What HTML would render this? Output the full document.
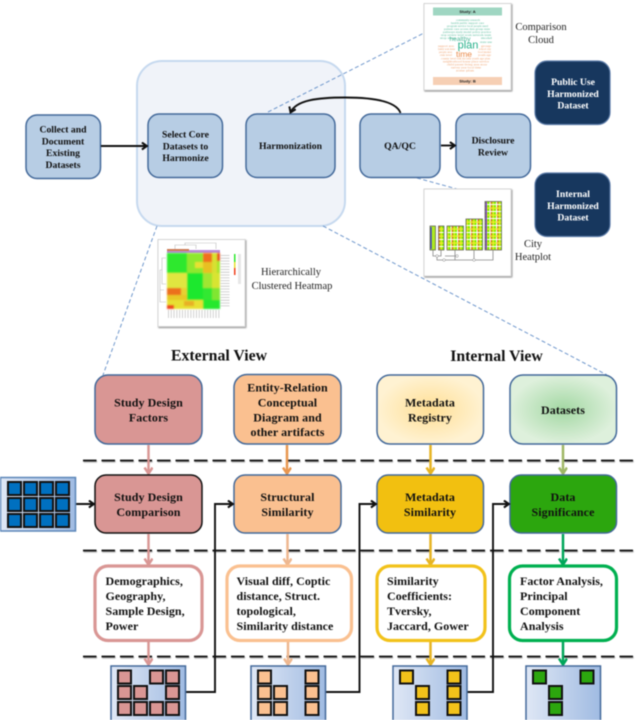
<!DOCTYPE html>
<html><head><meta charset="utf-8">
<style>
html,body{margin:0;padding:0;background:#fff;width:638px;height:720px;overflow:hidden}
svg{display:block;filter:blur(.4px)}
text{font-family:"Liberation Serif",serif}
.b{font-weight:bold;fill:#111;text-anchor:middle}
.t{font-size:9.7px}
.m{font-size:12px;letter-spacing:.08px}
.l{font-size:12px;font-weight:bold;fill:#111;letter-spacing:.03px}
.w{fill:#fff}
.n{font-size:10.5px;fill:#222;text-anchor:middle}
.bx{stroke:#43699a;stroke-width:1.5}
.sq{stroke:#111;stroke-width:2}
.tw{font-family:"Liberation Sans",sans-serif;font-size:3px}
.g{fill:#62c0a2}.o{fill:#f0a574}
</style></head><body>
<svg width="638" height="720" viewBox="0 0 638 720" xmlns="http://www.w3.org/2000/svg">
<defs>
<radialGradient id="gy"><stop offset="0" stop-color="#ffdf95"/><stop offset="1" stop-color="#fff2d2"/></radialGradient>
<radialGradient id="gg"><stop offset="0" stop-color="#a3d8a3"/><stop offset="1" stop-color="#def0dc"/></radialGradient>
<linearGradient id="sb"><stop offset="0" stop-color="#dfe7f5"/><stop offset="1" stop-color="#a0bbe2"/></linearGradient>
<filter id="sh" x="-10%" y="-10%" width="125%" height="125%"><feDropShadow dx="0.8" dy="1" stdDeviation="0.8" flood-color="#000" flood-opacity=".45"/></filter>
<filter id="bl" x="-5%" y="-5%" width="110%" height="110%"><feGaussianBlur stdDeviation=".9"/></filter>
<filter id="ls" x="-2%" y="-200%" width="104%" height="500%"><feDropShadow dx="0.5" dy="1" stdDeviation="0.6" flood-color="#000" flood-opacity=".4"/></filter>
<pattern id="st" width="6.500" height="7" patternUnits="userSpaceOnUse">
<rect width="6.500" height="7" fill="#7cf000"/><rect x="2" width="1.100" height="7" fill="#fff"/><rect x="3.200" width="1.100" height="7" fill="#ff5a2a"/><rect x="5.200" width="1.300" height="7" fill="#e8ea20"/>
<rect y="1" width="6.500" height="1" fill="#fff"/><rect y="4.500" width="6.500" height="1.200" fill="#f2ec30"/>
</pattern>
<marker id="a" markerWidth="10" markerHeight="10" refX="6.600" refY="4" orient="auto" markerUnits="userSpaceOnUse"><path d="M1.500 .5L6.500 4L1.500 7.500" fill="none" stroke="#111" stroke-width="2"/></marker>
<marker id="ap" markerWidth="10" markerHeight="10" refX="7.400" refY="4.500" orient="auto" markerUnits="userSpaceOnUse"><path d="M1 .5L7 4.500L1 8.500" fill="none" stroke="#d99694" stroke-width="2.500"/></marker>
<marker id="ao" markerWidth="10" markerHeight="10" refX="7.400" refY="4.500" orient="auto" markerUnits="userSpaceOnUse"><path d="M1 .5L7 4.500L1 8.500" fill="none" stroke="#e8964f" stroke-width="2.500"/></marker>
<marker id="al" markerWidth="10" markerHeight="10" refX="7.400" refY="4.500" orient="auto" markerUnits="userSpaceOnUse"><path d="M1 .5L7 4.500L1 8.500" fill="none" stroke="#eeb78f" stroke-width="2.500"/></marker>
<marker id="ay" markerWidth="10" markerHeight="10" refX="7.400" refY="4.500" orient="auto" markerUnits="userSpaceOnUse"><path d="M1 .5L7 4.500L1 8.500" fill="none" stroke="#e6b422" stroke-width="2.500"/></marker>
<marker id="av" markerWidth="10" markerHeight="10" refX="7.400" refY="4.500" orient="auto" markerUnits="userSpaceOnUse"><path d="M1 .5L7 4.500L1 8.500" fill="none" stroke="#9fb765" stroke-width="2.500"/></marker>
<marker id="an" markerWidth="10" markerHeight="10" refX="7.400" refY="4.500" orient="auto" markerUnits="userSpaceOnUse"><path d="M1 .5L7 4.500L1 8.500" fill="none" stroke="#00a65a" stroke-width="2.500"/></marker>
</defs>

<!-- big container -->
<rect x="137" y="61" width="208" height="165" rx="25" fill="#f0f3f9" stroke="#c6d9ef" stroke-width="2"/>

<!-- blue dashed -->
<g fill="none" stroke="#6f97cc" stroke-width="1" stroke-dasharray="4 2.500">
<path d="M268 112L424 33"/><path d="M417 178L457 189"/><path d="M323 226L607 375"/><path d="M157 226L103 375"/>
</g>

<!-- top boxes -->
<g class="bx" fill="#b7cde4">
<rect x="26" y="115" width="74.500" height="63.500" rx="11"/>
<rect x="148" y="114" width="74.500" height="63.500" rx="11"/>
<rect x="246" y="114" width="89" height="63.500" rx="11"/>
<rect x="360" y="114" width="80" height="63.500" rx="11"/>
<rect x="456" y="114" width="74.500" height="63.500" rx="11"/>
</g>
<g fill="#17375e" stroke="#5b7ba8" stroke-width="1.200">
<rect x="535" y="61" width="75" height="63.500" rx="12"/>
<rect x="535" y="173" width="75" height="63.500" rx="12"/>
</g>
<g class="b t">
<text x="63" y="132.500">Collect and</text><text x="63" y="144.500">Document</text><text x="63" y="156">Existing</text><text x="63" y="168">Datasets</text>
<text x="185.500" y="137.500">Select Core</text><text x="185.500" y="149.500">Datasets to</text><text x="185.500" y="161">Harmonize</text>
<text x="290.500" y="149">Harmonization</text>
<text x="400" y="149">QA/QC</text>
<text x="493" y="143.500">Disclosure</text><text x="493" y="155.500">Review</text>
</g>
<g class="b t" style="fill:#fff">
<text x="573" y="85" class="w">Public Use</text><text x="573" y="97" class="w">Harmonized</text><text x="573" y="108.500" class="w">Dataset</text>
<text x="573" y="197" class="w">Internal</text><text x="573" y="209" class="w">Harmonized</text><text x="573" y="220.500" class="w">Dataset</text>
</g>
<g fill="none" stroke="#111" stroke-width="1.900">
<path d="M101 146H147" marker-end="url(#a)"/>
<path d="M441 145.500H455" marker-end="url(#a)"/>
<path d="M400.500 113C396 100 368 97.500 345 97.500C318 97.500 296 100 290.500 112.500" marker-end="url(#a)"/>
</g>

<!-- word cloud card -->
<g>
<rect x="424" y="3.500" width="87" height="86.500" fill="#fff" stroke="#d4d4d4" filter="url(#sh)"/>
<rect x="433" y="7.500" width="69" height="8" fill="#9fd6c2"/>
<rect x="433" y="77" width="69" height="8" fill="#f6cfb4"/>
<text x="467.500" y="13" font-size="4" font-weight="bold" text-anchor="middle" style='font-family:"Liberation Sans",sans-serif' fill="#222">Study: A</text>
<text x="467.500" y="82.500" font-size="4" font-weight="bold" text-anchor="middle" style='font-family:"Liberation Sans",sans-serif' fill="#222">Study: B</text>
<g class="tw" lengthAdjust="spacingAndGlyphs">
<text class="g" x="456" y="21" textLength="24" lengthAdjust="spacingAndGlyphs">community research</text>
<text class="g" x="451" y="24" textLength="33" lengthAdjust="spacingAndGlyphs">health public support care</text>
<text class="g" x="447" y="27" textLength="41" lengthAdjust="spacingAndGlyphs">program service local people need</text>
<text class="g" x="444" y="30" textLength="46" lengthAdjust="spacingAndGlyphs">patient care access data group state</text>
<text class="g" x="443" y="33" textLength="48" lengthAdjust="spacingAndGlyphs">pathways study model policy practice</text>
<text class="g" x="441" y="36" textLength="50" lengthAdjust="spacingAndGlyphs">stop review level work network team</text>
<text class="g" x="440" y="39" textLength="16" lengthAdjust="spacingAndGlyphs">stop share</text>
<text class="g" x="481" y="39" textLength="11" lengthAdjust="spacingAndGlyphs">model</text>
<text class="g" x="480" y="43" textLength="12" lengthAdjust="spacingAndGlyphs">state use</text>
<text class="o" x="438" y="47" textLength="16" lengthAdjust="spacingAndGlyphs">support area</text>
<text class="o" x="481" y="47" textLength="10" lengthAdjust="spacingAndGlyphs">group</text>
<text class="o" x="438" y="50" textLength="17" lengthAdjust="spacingAndGlyphs">family work home</text>
<text class="o" x="479" y="50" textLength="12" lengthAdjust="spacingAndGlyphs">school city</text>
<text class="o" x="439" y="53" textLength="13" lengthAdjust="spacingAndGlyphs">people area</text>
<text class="o" x="478" y="53" textLength="13" lengthAdjust="spacingAndGlyphs">food market</text>
<text class="o" x="440" y="56" textLength="12" lengthAdjust="spacingAndGlyphs">risk level</text>
<text class="o" x="478" y="56" textLength="13" lengthAdjust="spacingAndGlyphs">youth age</text>
<text class="o" x="441" y="59.500" textLength="49" lengthAdjust="spacingAndGlyphs">county level risk income youth age plan</text>
<text class="o" x="443" y="62.500" textLength="46" lengthAdjust="spacingAndGlyphs">neighborhood house place service</text>
<text class="o" x="447" y="65.500" textLength="40" lengthAdjust="spacingAndGlyphs">child parent living area store</text>
<text class="o" x="451" y="68.500" textLength="30" lengthAdjust="spacingAndGlyphs">survey year local time</text>
<text class="o" x="456" y="71.500" textLength="18" lengthAdjust="spacingAndGlyphs">zone plan</text>
</g>
<text x="468" y="48.500" font-size="11" text-anchor="middle" style='font-family:"Liberation Sans",sans-serif' fill="#25b08a">plan</text>
<text x="460" y="41" font-size="6.500" text-anchor="middle" style='font-family:"Liberation Sans",sans-serif' fill="#4fb89a">healthy</text>
<text x="464" y="57" font-size="8.500" text-anchor="middle" style='font-family:"Liberation Sans",sans-serif' fill="#ea8a4a">time</text>
</g>
<text class="n" x="541" y="30">Comparison</text><text class="n" x="541" y="43">Cloud</text>

<!-- city heatplot card -->
<g>
<rect x="424" y="189" width="87" height="87" fill="#fff" stroke="#d4d4d4" filter="url(#sh)"/>
<g stroke="#555" stroke-width=".7">
<rect x="430" y="226" width="5.500" height="24" fill="#aeea20"/>
<rect x="438.500" y="226" width="5.500" height="24" fill="url(#st)"/>
<rect x="447" y="226" width="16.500" height="24" fill="url(#st)"/>
<rect x="466" y="219" width="16.500" height="31" fill="url(#st)"/>
<rect x="485" y="201.500" width="16.500" height="48.500" fill="url(#st)"/>
</g>
<rect x="430.500" y="227" width="1.200" height="22" fill="#3a3ad0"/>
<rect x="485.600" y="202" width="1.300" height="47.500" fill="#6a3ad0"/>
<g fill="none" stroke="#888" stroke-width=".8">
<path d="M433 250V256H441V250M437 256V260H455V250M437 260H474V250M445 256H455M493 250V260H474"/>
</g>
<circle cx="437" cy="256" r="1.300" fill="#fff" stroke="#888" stroke-width=".5"/>
<circle cx="444" cy="260" r="1.300" fill="#fff" stroke="#888" stroke-width=".5"/>
<circle cx="457" cy="256" r="1.300" fill="#fff" stroke="#888" stroke-width=".5"/>
<circle cx="474" cy="260" r="1.300" fill="#fff" stroke="#888" stroke-width=".5"/>
</g>
<text class="n" x="533" y="247">City</text><text class="n" x="533" y="260">Heatplot</text>

<!-- clustered heatmap card -->
<g>
<rect x="158" y="239.500" width="87" height="87" fill="#fff" stroke="#d4d4d4" filter="url(#sh)"/>
<rect x="167" y="250" width="53" height="3" fill="#b98ad8"/>
<rect x="167" y="249" width="22" height="2" fill="#cc7a55"/>
<g filter="url(#bl)">
<rect x="167" y="253" width="53" height="56" fill="#a8e62a"/>
<rect x="167" y="253" width="20" height="20" fill="#2ee82e"/>
<rect x="187" y="253" width="16" height="20" fill="#8ee82e"/>
<rect x="195" y="262" width="8" height="6" fill="#e8e030"/>
<rect x="203" y="253" width="9" height="9" fill="#f0701c"/>
<rect x="203" y="262" width="9" height="11" fill="#e8c020"/>
<rect x="212" y="253" width="5" height="20" fill="#d8e030"/>
<rect x="217" y="253" width="3" height="8" fill="#e8501c"/>
<rect x="167" y="273" width="20" height="15" fill="#e0e640"/>
<rect x="187" y="273" width="16" height="27" fill="#1fe82e"/>
<rect x="203" y="273" width="9" height="15" fill="#a0e630"/>
<rect x="212" y="273" width="8" height="15" fill="#d8e430"/>
<rect x="167" y="288" width="14" height="7" fill="#ec6f1e"/>
<rect x="181" y="288" width="6" height="7" fill="#e8d030"/>
<rect x="167" y="295" width="20" height="5" fill="#e8c828"/>
<rect x="203" y="288" width="9" height="12" fill="#30e830"/>
<rect x="212" y="288" width="8" height="12" fill="#80e630"/>
<rect x="167" y="300" width="36" height="9" fill="#e8e030"/>
<rect x="167" y="305" width="7" height="4" fill="#ee4a1c"/>
<rect x="184" y="301" width="10" height="5" fill="#e8b028"/>
<rect x="203" y="300" width="17" height="9" fill="#28e82e"/>
</g>
<g fill="none" stroke="#bbb" stroke-width=".6">
<path d="M175 249V245H196V249M185 245V243H216V249"/>
<path d="M166 258H162V284H166M162 270H160V302H166M160 290H164"/>
</g>
<g stroke="#ccc" stroke-dasharray=".9 1.900" fill="none">
<path d="M221 255H230" stroke-width="0"/>
<path d="M225 255V308" stroke-width="9"/>
<path d="M168 314H220" stroke-width="8"/>
</g>
<rect x="234" y="254" width="1.500" height="8" fill="#2ee82e"/><rect x="234" y="262" width="1.500" height="6" fill="#e8e030"/><rect x="234" y="268" width="1.500" height="7" fill="#f0401c"/>
<rect x="238" y="254" width="3" height="30" fill="#ddd" opacity=".7"/>
</g>
<text class="n" x="291" y="275">Hierarchically</text><text class="n" x="292" y="289">Clustered Heatmap</text>

<!-- headings -->
<text class="b" x="219" y="360.500" font-size="15.800">External View</text>
<text class="b" x="496.500" y="361" font-size="15.800">Internal View</text>

<!-- dashed separators -->
<g stroke="#111" stroke-width="1.800" stroke-dasharray="13.500 5" fill="none" filter="url(#ls)">
<path d="M83 460.500H635"/><path d="M83 550.500H635"/><path d="M83 656.500H635"/>
</g>

<!-- vertical arrows -->
<g fill="none" stroke-width="2.500">
<path d="M148.500 445V474" stroke="#d99694" marker-end="url(#ap)"/>
<path d="M287 445V474" stroke="#e8964f" marker-end="url(#ao)"/>
<path d="M430.500 445V474" stroke="#e6b422" marker-end="url(#ay)"/>
<path d="M563 445V474" stroke="#9fb765" marker-end="url(#av)"/>
<path d="M148.500 534V565" stroke="#d99694" marker-end="url(#ap)"/>
<path d="M287.500 534V565" stroke="#eeb78f" marker-end="url(#al)"/>
<path d="M430.500 534V565" stroke="#e6b422" marker-end="url(#ay)"/>
<path d="M563 534V565" stroke="#00a65a" marker-end="url(#an)"/>
<path d="M148.500 641V665" stroke="#d99694" marker-end="url(#ap)"/>
<path d="M288 641V665" stroke="#eeb78f" marker-end="url(#al)"/>
<path d="M430.500 641V665" stroke="#e6b422" marker-end="url(#ay)"/>
<path d="M563 641V665" stroke="#00a65a" marker-end="url(#an)"/>
</g>

<!-- row 1 -->
<g class="bx">
<rect x="95" y="375" width="107" height="69" rx="13" fill="#d99694"/>
<rect x="234" y="374.500" width="107" height="69.500" rx="13" fill="#fac090"/>
<rect x="377" y="375" width="106.500" height="69" rx="13" fill="url(#gy)"/>
<rect x="510" y="375" width="106.500" height="69" rx="13" fill="url(#gg)"/>
</g>
<!-- row 2 -->
<rect x="95" y="475" width="107" height="58" rx="11" fill="#d99694" stroke="#111" stroke-width="1.500"/>
<g class="bx">
<rect x="234" y="475" width="107" height="58" rx="11" fill="#fac090"/>
<rect x="377" y="475" width="106.500" height="58" rx="11" fill="#f2c010"/>
<rect x="510" y="475" width="106.500" height="58" rx="11" fill="#2ca60e"/>
</g>
<!-- row 3 -->
<g fill="#fff" stroke-width="3.200">
<rect x="95" y="566" width="107" height="74.500" rx="13" stroke="#d99694"/>
<rect x="227" y="566" width="124.500" height="74.500" rx="13" stroke="#fac090"/>
<rect x="377" y="566" width="108" height="74.500" rx="13" stroke="#f2c21a"/>
<rect x="509.500" y="566" width="107" height="74.500" rx="13" stroke="#00b050"/>
</g>

<g class="b m">
<text x="148.500" y="406.500">Study Design</text><text x="148.500" y="421.500">Factors</text>
<text x="287.500" y="391.500">Entity-Relation</text><text x="287.500" y="406.500">Conceptual</text><text x="287.500" y="421.500">Diagram and</text><text x="287.500" y="436">other artifacts</text>
<text x="430" y="406.500">Metadata</text><text x="430" y="421.500">Registry</text>
<text x="563" y="414">Datasets</text>
<text x="148.500" y="501">Study Design</text><text x="148.500" y="516">Comparison</text>
<text x="287.500" y="501">Structural</text><text x="287.500" y="516">Similarity</text>
<text x="430" y="501">Metadata</text><text x="430" y="516">Similarity</text>
<text x="563" y="501">Data</text><text x="563" y="516">Significance</text>
</g>
<g class="l">
<text x="105.500" y="585">Demographics,</text><text x="105.500" y="600">Geography,</text><text x="105.500" y="615">Sample Design,</text><text x="105.500" y="630">Power</text>
<text x="236.500" y="585">Visual diff, Coptic</text><text x="236.500" y="600">distance, Struct.</text><text x="236.500" y="615">topological,</text><text x="236.500" y="630">Similarity distance</text>
<text x="387" y="585">Similarity</text><text x="387" y="600">Coefficients:</text><text x="387" y="615">Tversky,</text><text x="387" y="630">Jaccard, Gower</text>
<text x="520" y="585">Factor Analysis,</text><text x="520" y="600">Principal</text><text x="520" y="615">Component</text><text x="520" y="630">Analysis</text>
</g>

<!-- elbow connectors -->
<g fill="none" stroke="#111" stroke-width="1.900">
<path d="M185 692H215V504H233" marker-end="url(#a)"/>
<path d="M325 692H359.500V504H376" marker-end="url(#a)"/>
<path d="M467 692H493V504H509" marker-end="url(#a)"/>
<path d="M75 504H94" marker-end="url(#a)"/>
</g>

<!-- left grid -->
<rect x="0.500" y="477.500" width="75" height="53.500" fill="url(#sb)" stroke="#5b85b8" stroke-width="1.500"/>
<g fill="#0070c0" class="sq">
<rect x="8" y="482" width="13" height="13"/><rect x="24" y="482" width="13" height="13"/><rect x="40" y="482" width="13" height="13"/><rect x="56" y="482" width="13" height="13"/>
<rect x="8" y="498" width="13" height="13"/><rect x="24" y="498" width="13" height="13"/><rect x="40" y="498" width="13" height="13"/><rect x="56" y="498" width="13" height="13"/>
<rect x="8" y="514" width="13" height="13"/><rect x="24" y="514" width="13" height="13"/><rect x="40" y="514" width="13" height="13"/><rect x="56" y="514" width="13" height="13"/>
</g>

<!-- bottom boxes -->
<g fill="url(#sb)" stroke="#43699a" stroke-width="1.500">
<rect x="111" y="666" width="74.500" height="56"/>
<rect x="251" y="666" width="74.500" height="56"/>
<rect x="393" y="666" width="74" height="56"/>
<rect x="526" y="666" width="74.500" height="56"/>
</g>
<g fill="#d99694" class="sq">
<rect x="118" y="670.500" width="13" height="13"/><rect x="150" y="670.500" width="13" height="13"/><rect x="166" y="670.500" width="13" height="13"/>
<rect x="118" y="686" width="13" height="13"/><rect x="134" y="686" width="13" height="13"/><rect x="166" y="686" width="13" height="13"/>
<rect x="118" y="702" width="13" height="13"/><rect x="134" y="702" width="13" height="13"/><rect x="150" y="702" width="13" height="13"/><rect x="166" y="702" width="13" height="13"/>
</g>
<g fill="#fac090" class="sq">
<rect x="258" y="670.500" width="13" height="13"/><rect x="305.500" y="670.500" width="13" height="13"/>
<rect x="258" y="686" width="13" height="13"/><rect x="274" y="686" width="13" height="13"/><rect x="305.500" y="686" width="13" height="13"/>
<rect x="258" y="702" width="13" height="13"/><rect x="274" y="702" width="13" height="13"/><rect x="305.500" y="702" width="13" height="13"/>
</g>
<g fill="#f2c21a" class="sq">
<rect x="400" y="670.500" width="13" height="13"/><rect x="447.500" y="670.500" width="13" height="13"/>
<rect x="416" y="686" width="13" height="13"/><rect x="447.500" y="686" width="13" height="13"/>
<rect x="416" y="702" width="13" height="13"/><rect x="447.500" y="702" width="13" height="13"/>
</g>
<g fill="#2ca60e" class="sq">
<rect x="533" y="670.500" width="13" height="13"/><rect x="580.500" y="670.500" width="13" height="13"/>
<rect x="549" y="686" width="13" height="13"/>
<rect x="549" y="702" width="13" height="13"/>
</g>
</svg>
</body></html>
